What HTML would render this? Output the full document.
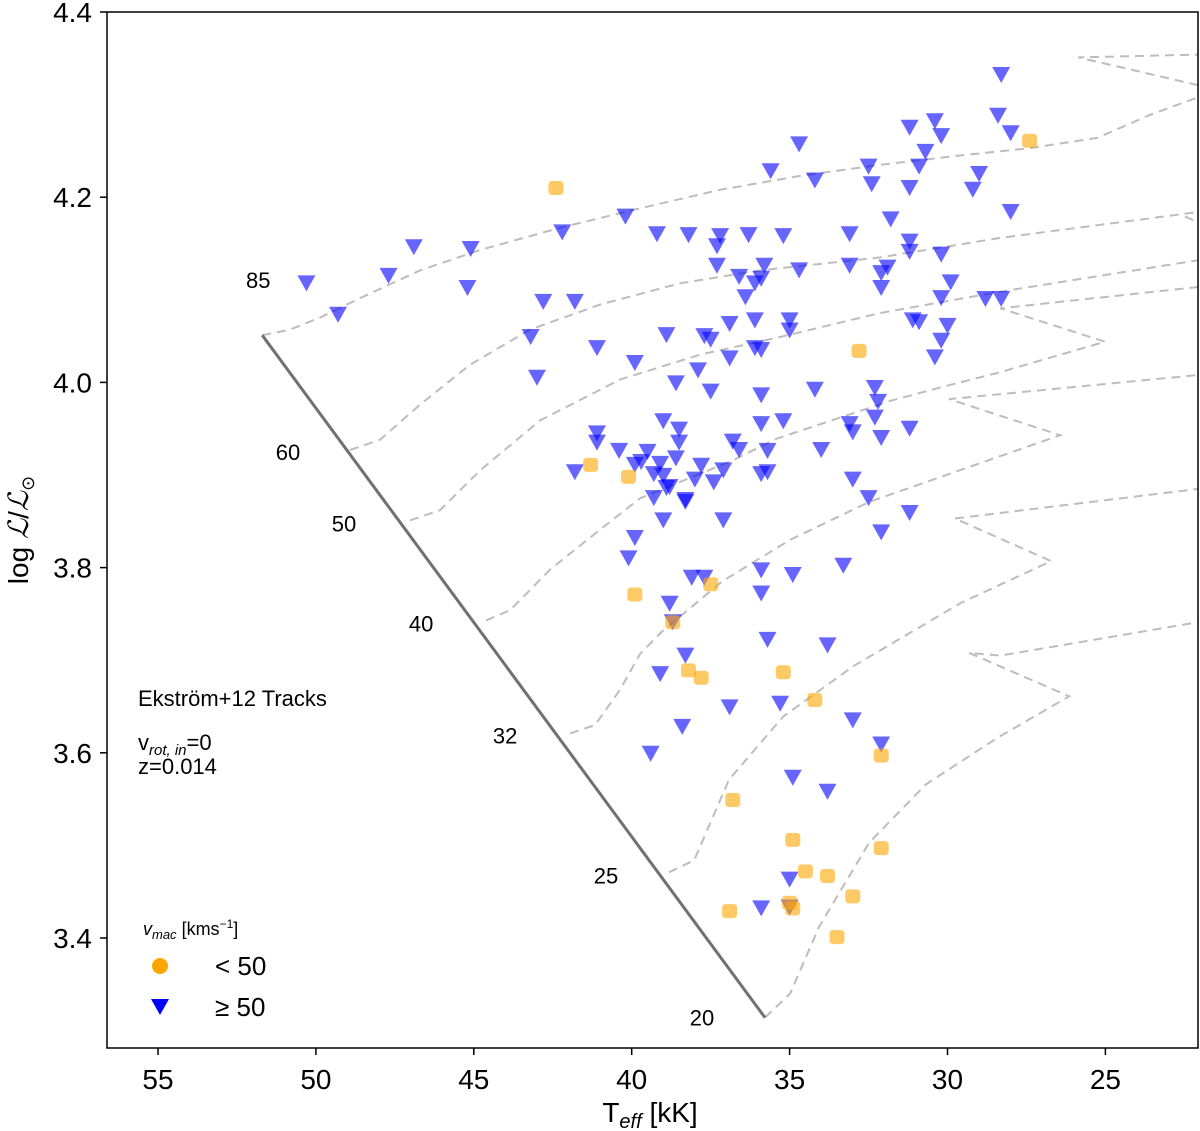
<!DOCTYPE html>
<html><head><meta charset="utf-8"><style>
html,body{margin:0;padding:0;background:#fff}
svg{display:block;font-family:"Liberation Sans","DejaVu Sans",sans-serif}
</style></head><body>
<svg id="chart" width="1200" height="1131" viewBox="0 0 1200 1131" xmlns="http://www.w3.org/2000/svg">
<defs><clipPath id="clip"><rect x="107" y="12" width="1091" height="1036"/></clipPath></defs>
<rect x="0" y="0" width="1200" height="1131" fill="#fff"/>
<g id="tracks" clip-path="url(#clip)"></g>
<g id="points" clip-path="url(#clip)"></g>
<rect x="107" y="12" width="1091" height="1036" fill="none" stroke="#000" stroke-width="1.5"/>
<g id="axes"></g>
<g id="labels" font-size="22" fill="#000"></g>
<text x="138" y="706" font-size="22">Ekström+12 Tracks</text>
<text x="138" y="750" font-size="22">v<tspan font-size="15" dy="5" font-style="italic">rot, in</tspan><tspan dy="-5">=0</tspan></text>
<text x="138" y="774" font-size="22">z=0.014</text>
<g>
<text x="143" y="935" font-size="18"><tspan font-style="italic">v</tspan><tspan font-size="13" dy="4" font-style="italic">mac</tspan><tspan dy="-4"> [kms</tspan><tspan font-size="12" dy="-7">−1</tspan><tspan dy="7">]</tspan></text>
<circle cx="160" cy="966" r="8" fill="#ffa500"/>
<text x="215" y="975" font-size="26">&lt; 50</text>
<path d="M151,999 L169,999 L160,1015 Z" fill="#0000ff"/>
<text x="215" y="1016" font-size="26">≥ 50</text>
</g>
<text x="650" y="1122" font-size="28" text-anchor="middle">T<tspan font-size="20" dy="6" font-style="italic">eff</tspan><tspan dy="-6"> [kK]</tspan></text>
<text transform="translate(28,530) rotate(-90)" font-size="28" text-anchor="middle">log <tspan font-family="Liberation Serif, serif" font-style="italic">ℒ</tspan>/<tspan font-family="Liberation Serif, serif" font-style="italic">ℒ</tspan><tspan font-size="18" dy="6">⊙</tspan></text>
</svg>
<script>
const xTicks=[55,50,45,40,35,30,25];
const yTicks=[3.4,3.6,3.8,4.0,4.2,4.4];
const yTickLabels=["3.4","3.6","3.8","4.0","4.2","4.4"];
const blueT=[50.3,49.3,47.7,46.9,45.1,45.2,42.8,41.8,43.2,43.0,42.2,41.1,40.2,39.2,39.9,38.9,38.6,37.9,37.7,37.3,38.2,37.3,37.2,36.6,36.3,36.4,36.1,35.9,35.8,36.1,35.2,34.7,35.6,34.7,34.2,33.1,32.5,32.4,31.8,30.9,31.2,30.7,30.4,30.2,31.2,29.2,29.0,28.3,28.4,28.0,28.0,33.1,32.1,31.9,32.1,31.2,31.2,30.2,29.9,30.2,31.1,30.9,30.0,30.2,30.4,28.8,28.3,36.1,36.9,37.5,36.9,37.5,35.9,35.9,35.0,35.0,34.2,35.2,35.9,36.8,36.6,35.7,35.7,37.1,37.4,37.8,38.0,38.3,38.8,38.5,39.0,38.5,38.6,39.5,39.7,39.1,39.9,39.3,39.0,38.9,40.4,41.1,41.1,41.8,40.1,39.9,39.0,39.3,38.3,35.9,34.0,33.1,33.0,32.3,32.2,32.3,32.1,31.2,33.0,32.5,32.1,31.2,37.1,38.1,37.7,35.9,35.9,34.9,33.3,38.8,38.7,38.3,39.1,38.4,36.9,35.7,35.3,33.8,33.0,32.1,34.9,33.8,39.4,35.9,35.0,35.0];
const blueL=[4.107,4.073,4.115,4.146,4.144,4.102,4.087,4.087,4.049,4.005,4.162,4.037,4.179,4.160,4.021,4.051,3.999,4.013,4.050,4.126,4.159,4.147,4.158,4.114,4.159,4.092,4.107,4.112,4.126,4.067,4.158,4.121,4.228,4.257,4.218,4.160,4.233,4.214,4.176,4.233,4.210,4.249,4.282,4.266,4.275,4.208,4.225,4.332,4.288,4.269,4.184,4.126,4.118,4.124,4.102,4.152,4.141,4.138,4.108,4.091,4.067,4.065,4.061,4.045,4.027,4.090,4.090,4.037,4.063,4.046,4.026,3.990,3.986,4.035,4.067,4.056,3.992,3.958,3.955,3.936,3.927,3.903,3.926,3.905,3.892,3.910,3.895,3.873,3.887,3.949,3.958,3.935,3.918,3.925,3.914,3.912,3.911,3.901,3.899,3.886,3.926,3.945,3.935,3.903,3.810,3.832,3.851,3.875,3.871,3.901,3.927,3.955,3.946,3.994,3.979,3.962,3.940,3.950,3.895,3.875,3.838,3.859,3.851,3.789,3.789,3.797,3.772,3.792,3.802,3.761,3.741,3.705,3.685,3.628,3.649,3.722,3.653,3.716,3.635,3.609,3.573,3.558,3.599,3.432,3.433,3.463];
const orangeT=[42.4,27.4,32.8,41.3,40.1,39.9,37.5,38.7,38.2,37.8,35.2,34.2,32.1,36.8,34.9,34.5,33.8,32.1,33.0,35.0,34.9,36.9,33.5];
const orangeL=[4.210,4.261,4.034,3.911,3.898,3.771,3.782,3.741,3.689,3.681,3.687,3.657,3.597,3.549,3.506,3.472,3.467,3.497,3.445,3.438,3.432,3.429,3.401];
const zamsT=[51.70,35.78], zamsL=[4.051,3.314];
const t85T=[51.70,50.82,49.87,48.60,46.70,44.80,42.27,39.73,37.20,34.67,32.13,29.60,27.38,25.26,23.58,22.06];
const t85L=[4.051,4.057,4.070,4.091,4.121,4.143,4.167,4.188,4.208,4.223,4.235,4.245,4.253,4.264,4.289,4.308];
const t85bT=[22.06,25.86,22.06], t85bL=[4.321,4.351,4.354];
const t60T=[48.92,47.97,46.70,45.12,43.22,41.00,38.47,35.93,32.13,28.33,22.06];
const t60L=[3.927,3.938,3.976,4.019,4.057,4.084,4.107,4.121,4.135,4.156,4.184];
const t60bT=[22.48,22.06], t60bL=[4.179,4.173];
const t50T=[47.02,46.07,44.80,42.90,40.37,37.83,35.30,32.13,28.33,22.06];
const t50L=[3.851,3.862,3.905,3.959,4.003,4.030,4.049,4.075,4.098,4.132];
const t40T=[44.61,43.85,42.58,41.00,39.73,36.79,35.43,33.40,31.82,29.95,28.33,25.01,28.33,22.06];
const t40L=[3.743,3.754,3.798,3.841,3.875,3.916,3.939,3.962,3.980,3.997,4.011,4.044,4.080,4.103];
const t32T=[41.95,41.16,40.37,39.73,39.07,37.14,34.98,32.48,26.43,29.95,22.06];
const t32L=[3.621,3.630,3.668,3.707,3.730,3.785,3.830,3.871,3.943,3.982,4.008];
const t25T=[38.82,38.02,36.92,35.21,32.96,29.57,26.72,29.77,22.06];
const t25L=[3.471,3.484,3.571,3.639,3.694,3.762,3.807,3.853,3.885];
const t20T=[35.78,34.98,34.07,32.48,30.68,28.43,26.15,29.32,28.33,22.06];
const t20L=[3.314,3.340,3.412,3.503,3.566,3.616,3.661,3.708,3.705,3.741];
const massLabels=["85","60","50","40","32","25","20"];
const massT=[51.70,48.92,47.02,44.61,41.95,38.82,35.78];
const massL=[4.051,3.927,3.851,3.743,3.621,3.471,3.314];

const NS="http://www.w3.org/2000/svg";
function xs(t){return 158+(55-t)*31.58;}
function ys(l){return 12+(4.4-l)*926;}
function mk(tag,attrs,parent){const e=document.createElementNS(NS,tag);for(const k in attrs)e.setAttribute(k,attrs[k]);parent.appendChild(e);return e;}
const axes=document.getElementById('axes');
xTicks.forEach(t=>{
  const x=xs(t);
  const l=mk('line',{x1:x,x2:x,y1:1048,y2:1055,stroke:'#000','stroke-width':1.5},axes);
  
  
  const tx=mk('text',{x:x,y:1089,'font-size':28,'text-anchor':'middle'},axes);
  tx.textContent=String(t);
  
  
});
yTicks.forEach((v,i)=>{
  const y=ys(v);
  const l=mk('line',{x1:100,x2:107,y1:y,y2:y,stroke:'#000','stroke-width':1.5},axes);
  
  
  const tx=mk('text',{x:92,y:y+10,'font-size':28,'text-anchor':'end'},axes);
  tx.textContent=yTickLabels[i];
  
  
});
const tg=document.getElementById('tracks');
function poly(T,L,name,dashed){
  const pts=T.map((t,i)=>xs(t).toFixed(1)+','+ys(L[i]).toFixed(1)).join(' ');
  const p=mk('polyline',{points:pts,fill:'none',stroke:dashed?'#bdbdbd':'#707070','stroke-width':dashed?2:3,'stroke-dasharray':dashed?'9,6':'none'},tg);
  
  
}
poly(t85T,t85L,'track-85',true);poly(t85bT,t85bL,'track-85-extension',true);
poly(t60T,t60L,'track-60',true);poly(t60bT,t60bL,'track-60-extension',true);
poly(t50T,t50L,'track-50',true);poly(t40T,t40L,'track-40',true);
poly(t32T,t32L,'track-32',true);poly(t25T,t25L,'track-25',true);
poly(t20T,t20L,'track-20',true);
poly(zamsT,zamsL,'zams-line',false);
const lg=document.getElementById('labels');
const offs=[[-4,-47],[-62,10],[-66,11],[-65,11],[-65,10],[-63,11],[-63,8]];
massLabels.forEach((m,i)=>{
  const tx=mk('text',{x:xs(massT[i])+offs[i][0],y:ys(massL[i])+offs[i][1],'text-anchor':'middle'},lg);
  tx.textContent=m;
  
  
});
const pg=document.getElementById('points');
blueT.forEach((t,i)=>{
  const x=xs(t),y=ys(blueL[i]);
  const p=mk('path',{d:`M${x-9},${y-8} L${x+9},${y-8} L${x},${y+8} Z`,fill:'#0000ff','fill-opacity':0.6},pg);
  
  
});
orangeT.forEach((t,i)=>{
  const x=xs(t),y=ys(orangeL[i]);
  const r=mk('rect',{x:x-7.5,y:y-7,width:15,height:14,rx:3.5,fill:'#ffa500','fill-opacity':0.6},pg);
  
  
});
</script>
</body></html>
